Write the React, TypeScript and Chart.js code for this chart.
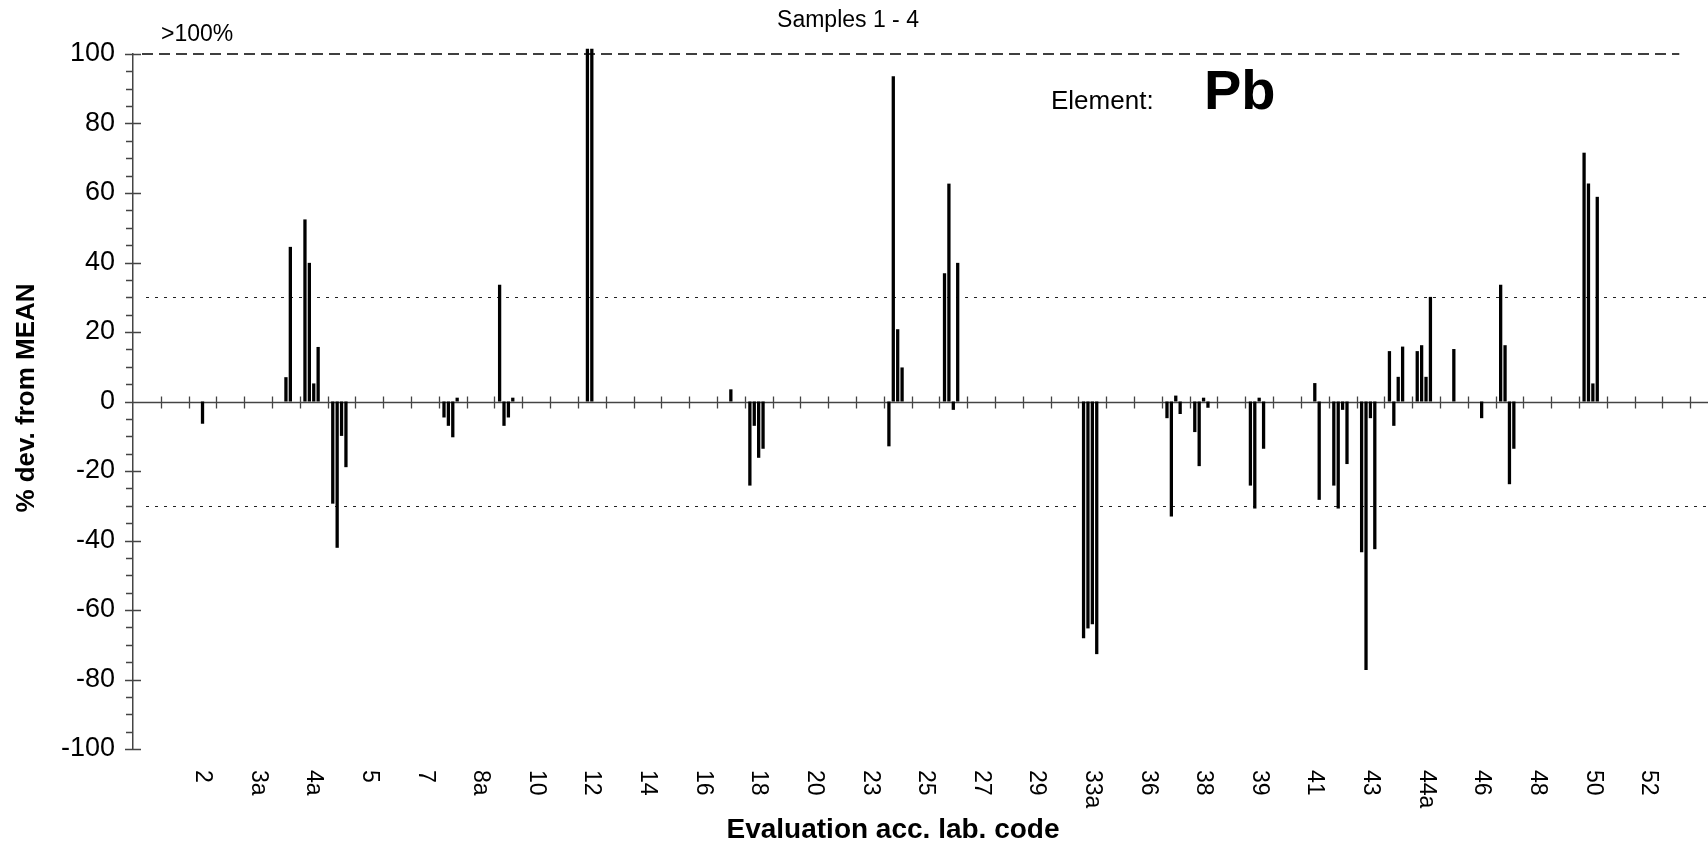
import React, { useEffect, useRef } from "react";
import { Chart, registerables } from "chart.js";

Chart.register(...registerables);

const FONT = "'Liberation Sans', Arial, Helvetica, sans-serif";

// ---- data -----------------------------------------------------------------
// Lab codes (only every second code is printed on the original axis)
const labCodes: string[] = [
  "", "", "2", "", "3a", "", "4a", "", "5", "",
  "7", "", "8a", "", "10", "", "12", "", "14", "",
  "16", "", "18", "", "20", "", "23", "", "25", "",
  "27", "", "29", "", "33a", "", "36", "", "38", "",
  "39", "", "41", "", "43", "", "44a", "", "46", "",
  "48", "", "50", "", "52", "", "",
];

// % deviation from MEAN, one array per sample (null = no result)
// values above 100 are drawn capped just over the >100% line
const sample1: (number | null)[] = [
  null, null, null, null, null, null, 52.4, -29.4, null, null,
  null, -4.6, null, 33.6, null, null, null, null, null, null,
  null, null, -24.2, null, null, null, null, -12.9, null, 36.9,
  null, null, null, null, -68.1, null, null, -4.8, -8.8, null,
  -24.2, null, null, -24.2, -43.4, 14.5, 14.5, null, null, 33.6,
  null, null, 71.6, null, null, null, null,
];
const sample2: (number | null)[] = [
  null, null, null, null, null, null, 39.9, -42.1, null, null,
  null, -7.0, null, -7.0, null, null, 101.5, null, null, null,
  null, null, -7.0, null, null, null, null, 93.6, null, 62.7,
  null, null, null, null, -65.3, null, null, -33.1, -18.6, null,
  -30.8, null, null, -30.8, -77.3, -7.0, 16.2, null, null, 16.2,
  null, null, 62.7, null, null, null, null,
];
const sample3: (number | null)[] = [
  null, null, -6.4, null, null, 7.0, 5.2, -9.9, null, null,
  null, -10.3, null, -4.6, null, null, 101.5, null, null, null,
  null, 3.5, -16.2, null, null, null, null, 20.8, null, -2.4,
  null, null, null, null, -64.1, null, null, 1.7, 1.1, null,
  1.1, null, 5.3, -2.4, -4.8, 7.1, 7.1, 15.1, -4.8, -23.8,
  null, null, 5.2, null, null, null, null,
];
const sample4: (number | null)[] = [
  null, null, null, null, null, 44.5, 15.7, -18.9, null, null,
  null, 1.1, null, 1.1, null, null, null, null, null, null,
  null, null, -13.6, null, null, null, null, 9.8, null, 39.9,
  null, null, null, null, -72.7, null, null, -3.6, -1.8, null,
  -13.6, null, -28.3, -18.0, -42.5, 15.8, 30.1, null, null, -13.6,
  null, null, 58.9, null, null, null, null,
];
const sampleSeries = [sample1, sample2, sample3, sample4];

const yTickValues = [-100, -80, -60, -40, -20, 0, 20, 40, 60, 80, 100];
const overLimitLevel = 100;
const limitLevels = [30, -30];

const chartTitle = "Samples 1 - 4";
const overLabel = ">100%";
const elementLabel = "Element:";
const elementName = "Pb";
const yTitle = "% dev. from MEAN";
const xTitle = "Evaluation acc. lab. code";

// ---- plugin: reference lines, crossing axis ticks, rotated labels, texts ----
const overlay = {
  id: "overlay",
  beforeDatasetsDraw(chart: any) {
    const { ctx, chartArea: a, scales } = chart;
    const x = scales.x;
    const y = scales.y;
    const left = a.left;
    ctx.save();
    ctx.lineCap = "butt";

    // ±30 % limits (dotted)
    ctx.strokeStyle = "#222";
    ctx.lineWidth = 1;
    ctx.setLineDash([3, 6]);
    for (const v of limitLevels) {
      const py = Math.round(y.getPixelForValue(v)) + 0.5;
      ctx.beginPath();
      ctx.moveTo(left + 13, py);
      ctx.lineTo(chart.width, py);
      ctx.stroke();
    }

    // >100 % line (dashed)
    ctx.strokeStyle = "#000";
    ctx.lineWidth = 1.5;
    ctx.setLineDash([11, 6]);
    const p100 = y.getPixelForValue(overLimitLevel);
    ctx.beginPath();
    ctx.moveTo(left + 9, p100);
    ctx.lineTo(x.getPixelForValue(labCodes.length - 2) + 3, p100);
    ctx.stroke();
    ctx.setLineDash([]);

    // zero axis with crossing ticks at the category borders
    ctx.strokeStyle = "#444";
    ctx.lineWidth = 1.3;
    const y0 = Math.round(y.getPixelForValue(0)) + 0.5;
    const half = (x.getPixelForValue(1) - x.getPixelForValue(0)) / 2;
    ctx.beginPath();
    ctx.moveTo(left - 8, y0);
    ctx.lineTo(chart.width, y0);
    for (let i = 1; i <= labCodes.length; i++) {
      const bx = Math.round(x.getPixelForValue(i) - half) + 0.5;
      ctx.moveTo(bx, y0 - 6);
      ctx.lineTo(bx, y0 + 6);
    }
    // y axis ticks: major every 20 (crossing), minor every 5
    for (let v = -100; v <= 100; v += 5) {
      const py = Math.round(y.getPixelForValue(v)) + 0.5;
      if (v % 20 === 0) {
        ctx.moveTo(left - 8, py);
        ctx.lineTo(left + 8, py);
      } else {
        ctx.moveTo(left - 7, py);
        ctx.lineTo(left, py);
      }
    }
    ctx.stroke();
    ctx.restore();
  },
  afterDraw(chart: any) {
    const { ctx, scales } = chart;
    const x = scales.x;
    ctx.save();
    ctx.fillStyle = "#000";

    // rotated lab codes (reading downwards)
    ctx.font = `23px ${FONT}`;
    ctx.textAlign = "left";
    ctx.textBaseline = "middle";
    labCodes.forEach((code, i) => {
      if (!code) return;
      ctx.save();
      ctx.translate(x.getPixelForValue(i), 770);
      ctx.rotate(Math.PI / 2);
      ctx.fillText(code, 0, 0);
      ctx.restore();
    });

    ctx.textAlign = "center";
    ctx.font = `23px ${FONT}`;
    ctx.fillText(chartTitle, 848, 21);

    ctx.textAlign = "left";
    ctx.font = `23px ${FONT}`;
    ctx.fillText(overLabel, 161, 35);

    ctx.font = `26px ${FONT}`;
    ctx.fillText(elementLabel, 1051, 102);

    ctx.font = `bold 56px ${FONT}`;
    ctx.fillText(elementName, 1204, 94);

    ctx.textAlign = "center";
    ctx.font = `bold 28px ${FONT}`;
    ctx.fillText(xTitle, 893, 830);

    ctx.save();
    ctx.font = `bold 26px ${FONT}`;
    ctx.translate(27, 398);
    ctx.rotate(-Math.PI / 2);
    ctx.fillText(yTitle, 0, 0);
    ctx.restore();

    ctx.restore();
  },
};

export default function App() {
  const ref = useRef<HTMLCanvasElement>(null);

  useEffect(() => {
    const canvas = ref.current;
    if (!canvas) return;
    const chart = new Chart(canvas, {
      type: "bar",
      data: {
        labels: labCodes,
        datasets: [
          ...sampleSeries.map((d, k) => ({
            label: `Sample ${k + 1}`,
            data: d,
            backgroundColor: "#000",
            borderWidth: 0,
            clip: 8,
          })),
          // empty spacer slot: the original places the four samples left of the category centre
          { label: "", data: [], backgroundColor: "rgba(0,0,0,0)", borderWidth: 0 },
        ],
      },
      options: {
        responsive: false,
        animation: false,
        devicePixelRatio: 1,
        layout: { padding: { top: 54, bottom: 96, left: 0, right: 12 } },
        plugins: {
          legend: { display: false },
          tooltip: { enabled: false },
          title: { display: false },
        },
        datasets: {
          bar: { categoryPercentage: 0.79, barPercentage: 0.75 },
        } as any,
        scales: {
          x: {
            type: "category",
            offset: true,
            grid: { display: false, drawTicks: false },
            border: { display: false },
            ticks: { display: false },
            afterFit: (s: any) => {
              s.height = 0;
            },
          },
          y: {
            min: -100,
            max: 100,
            afterBuildTicks: (s: any) => {
              s.ticks = yTickValues.map((v) => ({ value: v }));
            },
            ticks: {
              color: "#000",
              font: { family: FONT, size: 27 },
              padding: 18,
            },
            grid: { display: false, drawTicks: false },
            border: { display: true, color: "#444", width: 1.5 },
            afterFit: (s: any) => {
              s.width = 133;
            },
          },
        },
      },
      plugins: [overlay],
    });
    return () => chart.destroy();
  }, []);

  return (
    <div
      style={{
        position: "absolute",
        left: 0,
        top: 0,
        width: 1708,
        height: 845,
        overflow: "hidden",
        background: "#fff",
      }}
    >
      <canvas
        ref={ref}
        width={1730}
        height={845}
        style={{ display: "block", width: 1730, height: 845 }}
      />
    </div>
  );
}
